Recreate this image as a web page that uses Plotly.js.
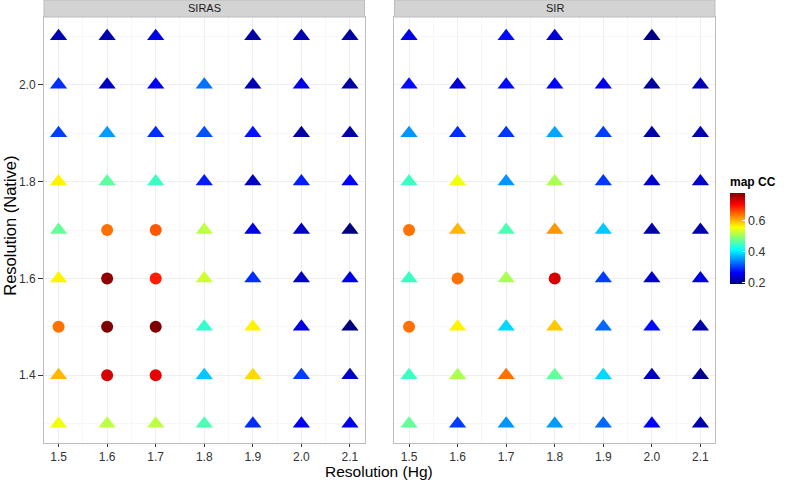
<!DOCTYPE html>
<html>
<head>
<meta charset="utf-8">
<script src="https://cdn.plot.ly/plotly-3.0.1.min.js"></script>
<style>
  html, body { margin: 0; padding: 0; background: #fff; }
  #chart { width: 787px; height: 482px; }
</style>
</head>
<body>
<div id="chart"></div>
<script>
// Resolution (Hg) along x, Resolution (Native) along y (rows listed top to bottom)
const hgRes = [1.5, 1.6, 1.7, 1.8, 1.9, 2.0, 2.1];
const nativeRes = [2.1, 2.0, 1.9, 1.8, 1.7, 1.6, 1.5, 1.4, 1.3];
const panels = ['SIRAS', 'SIR'];

// map CC per cell, null = no point
const sirasCC = [
    [0.22, 0.22, 0.25, null, 0.21, 0.22, 0.21],
    [0.29, 0.23, 0.26, 0.33, 0.22, 0.25, 0.21],
    [0.30, 0.355, 0.29, 0.31, 0.275, 0.21, 0.21],
    [0.565, 0.465, 0.445, 0.28, 0.23, 0.28, 0.26],
    [0.47, 0.64, 0.655, 0.52, 0.25, 0.23, 0.19],
    [0.565, 0.77, 0.69, 0.53, 0.29, 0.23, 0.25],
    [0.64, 0.78, 0.78, 0.44, 0.565, 0.25, 0.19],
    [0.60, 0.73, 0.72, 0.38, 0.58, 0.30, 0.23],
    [0.55, 0.52, 0.52, 0.455, 0.29, 0.26, 0.26]
];
const sirCC = [
    [0.25, null, 0.27, 0.24, null, 0.195, null],
    [0.27, 0.24, 0.27, 0.265, 0.255, 0.21, 0.22],
    [0.35, 0.29, 0.295, 0.36, 0.30, 0.215, 0.22],
    [0.445, 0.55, 0.35, 0.51, 0.295, 0.235, 0.235],
    [0.64, 0.60, 0.455, 0.62, 0.38, 0.215, 0.22],
    [0.445, 0.64, 0.51, 0.73, 0.30, 0.235, 0.245],
    [0.64, 0.565, 0.39, 0.59, 0.325, 0.27, 0.215],
    [0.445, 0.51, 0.64, 0.47, 0.39, 0.23, 0.195],
    [0.47, 0.30, 0.35, 0.355, 0.325, 0.265, 0.22]
];
// 1 = circle, 0 = triangle
const sirasCircle = [
    [0, 0, 0, 0, 0, 0, 0],
    [0, 0, 0, 0, 0, 0, 0],
    [0, 0, 0, 0, 0, 0, 0],
    [0, 0, 0, 0, 0, 0, 0],
    [0, 1, 1, 0, 0, 0, 0],
    [0, 1, 1, 0, 0, 0, 0],
    [1, 1, 1, 0, 0, 0, 0],
    [0, 1, 1, 0, 0, 0, 0],
    [0, 0, 0, 0, 0, 0, 0]
];
const sirCircle = [
    [0, 0, 0, 0, 0, 0, 0],
    [0, 0, 0, 0, 0, 0, 0],
    [0, 0, 0, 0, 0, 0, 0],
    [0, 0, 0, 0, 0, 0, 0],
    [1, 0, 0, 0, 0, 0, 0],
    [0, 1, 0, 1, 0, 0, 0],
    [1, 0, 0, 0, 0, 0, 0],
    [0, 0, 0, 0, 0, 0, 0],
    [0, 0, 0, 0, 0, 0, 0]
];

const jet = [
    [0, '#00007F'], [0.125, '#0000FF'], [0.25, '#007FFF'], [0.375, '#00FFFF'],
    [0.5, '#7FFF7F'], [0.625, '#FFFF00'], [0.75, '#FF7F00'], [0.875, '#FF0000'], [1, '#7F0000']
];

function buildTrace(cc, circles, xa, ya) {
    const x = [], y = [], c = [], sym = [], size = [];
    nativeRes.forEach((yv, i) => {
        hgRes.forEach((xv, j) => {
            if (cc[i][j] === null) return;
            x.push(xv);
            y.push(yv);
            c.push(cc[i][j]);
            sym.push(circles[i][j] ? 'circle' : 'triangle-up');
            size.push(circles[i][j] ? 12 : 15);
        });
    });
    return {
        x, y, xaxis: xa, yaxis: ya,
        type: 'scatter', mode: 'markers',
        marker: { color: c, coloraxis: 'coloraxis', symbol: sym, size: size, opacity: 1, line: { width: 0 } },
        hoverinfo: 'x+y+text', text: c.map(v => 'map CC: ' + v)
    };
}

const data = [
    buildTrace(sirasCC, sirasCircle, 'x', 'y'),
    buildTrace(sirCC, sirCircle, 'x2', 'y2')
];

const gridMajor = '#EFEFEF';
const gridMinor = '#F7F7F7';
const border = '#BDBDBD';
const tickFont = { family: 'Liberation Sans, Arial, sans-serif', size: 12, color: '#333333' };

const xCommon = {
    range: [1.47, 2.13],
    tickvals: hgRes,
    ticktext: hgRes.map(v => v.toFixed(1)),
    ticks: 'outside', ticklen: 3, tickcolor: '#333333', tickwidth: 1,
    tickfont: tickFont,
    showgrid: true, gridcolor: gridMajor, gridwidth: 1,
    minor: { dtick: 0.05, tick0: 1.45, showgrid: true, gridcolor: gridMinor, gridwidth: 1 },
    zeroline: false,
    showline: true, mirror: true, linecolor: border, linewidth: 1
};
const yCommon = {
    range: [1.26, 2.14],
    tickvals: [1.4, 1.6, 1.8, 2.0],
    ticktext: ['1.4', '1.6', '1.8', '2.0'],
    tickfont: tickFont,
    showgrid: true, gridcolor: gridMajor, gridwidth: 1,
    minor: { dtick: 0.1, tick0: 1.3, showgrid: true, gridcolor: gridMinor, gridwidth: 1 },
    zeroline: false,
    showline: true, mirror: true, linecolor: border, linewidth: 1
};

const plotH = 482 - 17 - 39;   // 426 px tall panels
const plotBottom = 17 + plotH;
const stripTop = 1 + 17 / plotH;
const leftDom = [0, 321 / 672];
const rightDom = [351 / 672, 1];

const layout = {
    width: 787, height: 482,
    margin: { l: 44, r: 71, t: 17, b: 39 },
    paper_bgcolor: '#ffffff',
    plot_bgcolor: '#ffffff',
    showlegend: false,
    font: { family: 'Liberation Sans, Arial, sans-serif', color: '#000' },
    xaxis: Object.assign({}, xCommon, { domain: leftDom, anchor: 'y' }),
    xaxis2: Object.assign({}, xCommon, { domain: rightDom, anchor: 'y2' }),
    yaxis: Object.assign({}, yCommon, { domain: [0, 1], anchor: 'x', ticks: 'outside', ticklen: 5, tickcolor: '#333333' }),
    yaxis2: Object.assign({}, yCommon, { domain: [0, 1], anchor: 'x2', matches: 'y', showticklabels: false, ticks: '' }),
    coloraxis: {
        cmin: 0.19, cmax: 0.78,
        colorscale: jet,
        colorbar: {
            title: { text: '<b>map CC</b>', side: 'top', font: { size: 12, family: 'Liberation Sans, Arial, sans-serif' } },
            x: 686 / 672, xanchor: 'left', xpad: 0,
            y: (plotBottom - 284) / plotH, yanchor: 'bottom', ypad: 0,
            len: 110, lenmode: 'pixels',
            thickness: 15, thicknessmode: 'pixels',
            outlinewidth: 0,
            tickvals: [0.2, 0.4, 0.6],
            ticktext: ['0.2', '0.4', '0.6'],
            ticks: 'inside', ticklen: 3, tickcolor: '#ffffff',
            tickfont: { size: 12.5, color: '#333333', family: 'Liberation Sans, Arial, sans-serif' }
        }
    },
    shapes: [leftDom, rightDom].map(d => ({
        type: 'rect', xref: 'paper', yref: 'paper',
        x0: d[0], x1: d[1], y0: 1, y1: stripTop,
        fillcolor: '#D3D3D3', line: { color: border, width: 1 }
    })),
    annotations: [
        ...panels.map((p, i) => {
            const d = i === 0 ? leftDom : rightDom;
            return {
                text: p, xref: 'paper', yref: 'paper',
                x: (d[0] + d[1]) / 2, y: (1 + stripTop) / 2,
                xanchor: 'center', yanchor: 'middle', showarrow: false,
                font: { size: 11, color: '#1a1a1a' }
            };
        }),
        {
            text: 'Resolution (Hg)', xref: 'paper', yref: 'paper',
            x: 0.499, y: -39 / plotH, xanchor: 'center', yanchor: 'bottom', showarrow: false,
            font: { size: 15.5, color: '#000' }
        },
        {
            text: 'Resolution (Native)', xref: 'paper', yref: 'paper',
            x: -34 / 672, y: 0.51, xanchor: 'center', yanchor: 'middle', showarrow: false,
            textangle: -90,
            font: { size: 16.5, color: '#000' }
        }
    ]
};

Plotly.newPlot('chart', data, layout, { displayModeBar: false, staticPlot: true });
</script>
</body>
</html>
